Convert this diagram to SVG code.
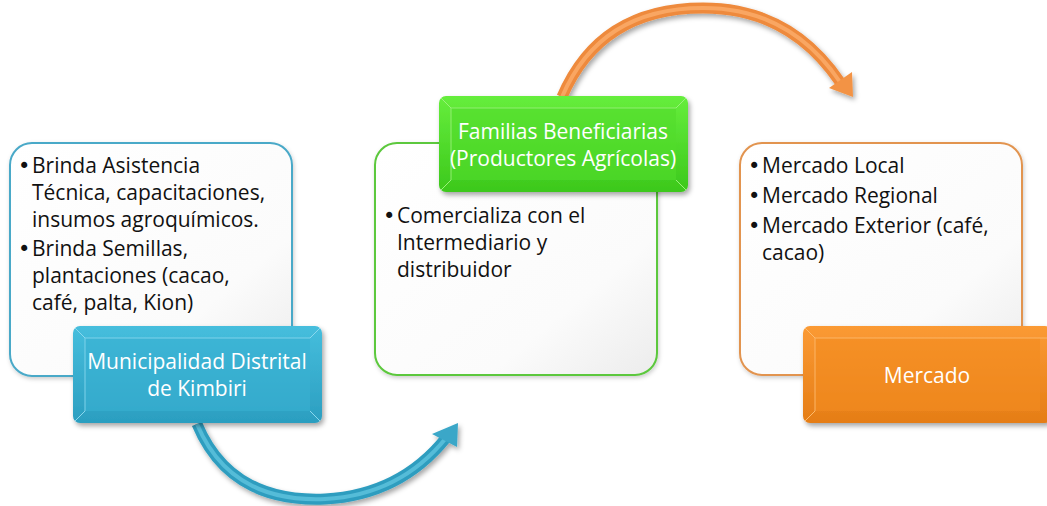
<svg xmlns="http://www.w3.org/2000/svg" width="1047" height="506" viewBox="0 0 1047 506">
<defs>
<filter id="sh" x="-20%" y="-20%" width="140%" height="150%"><feDropShadow dx="2" dy="3" stdDeviation="2.5" flood-color="#000" flood-opacity="0.35"/></filter>
<filter id="shs" x="-10%" y="-10%" width="120%" height="120%"><feDropShadow dx="1" dy="2" stdDeviation="2" flood-color="#000" flood-opacity="0.2"/></filter>
<linearGradient id="wf" x1="0" y1="0" x2="1" y2="1"><stop offset="0" stop-color="#ffffff"/><stop offset="0.7" stop-color="#fbfbfb"/><stop offset="1" stop-color="#ececec"/></linearGradient>
<linearGradient id="gb" x1="0" y1="0" x2="0" y2="1"><stop offset="0" stop-color="#46bedd"/><stop offset="1" stop-color="#2b9ec0"/></linearGradient>
<linearGradient id="gg" x1="0" y1="0" x2="0" y2="1"><stop offset="0" stop-color="#66ee3c"/><stop offset="1" stop-color="#3cc81c"/></linearGradient>
<linearGradient id="go" x1="0" y1="0" x2="0" y2="1"><stop offset="0" stop-color="#fb9a34"/><stop offset="1" stop-color="#e57d16"/></linearGradient>
</defs>
<style>
.body{font-family:"Open Sans",Lato,sans-serif;font-size:21px;fill:#111;}
.bul{font-family:"DejaVu Sans",sans-serif;font-size:21px;}
.lab{font-family:"Open Sans",Lato,sans-serif;font-size:21px;fill:#fff;text-anchor:middle;}
.card{fill:url(#wf);stroke-width:2;filter:url(#shs);}
.bev{fill:none;stroke-width:1;}
</style>

<g id="connectors">
  <g id="arrow-blue" filter="url(#sh)">
    <path d="M197,424 Q230,503 325,499 Q400,495 446,438" fill="none" stroke="#2f9dbf" stroke-width="11"/>
    <path d="M197,424 Q230,503 325,499 Q400,495 446,438" fill="none" stroke="#55bcd8" stroke-width="4"/>
    <polygon points="458,423 432,434 457,447" fill="#3aa7c8"/>
  </g>
  <g id="arrow-orange" filter="url(#sh)">
    <path d="M562,97 Q600,8 703,8 Q790,8 840,82" fill="none" stroke="#ee8a3c" stroke-width="11"/>
    <path d="M562,97 Q600,8 703,8 Q790,8 840,82" fill="none" stroke="#f9a662" stroke-width="4"/>
    <polygon points="853,97 829,88 852,72" fill="#f39344"/>
  </g>
</g>

<g id="node-municipalidad">
  <rect class="card" x="10" y="143" width="282" height="233" rx="22" stroke="#4aa9c8"/>
  <text class="body"><tspan class="bul" x="18" y="173">•</tspan><tspan x="32">Brinda Asistencia</tspan><tspan x="32" y="200">Técnica, capacitaciones,</tspan><tspan x="32" y="227">insumos agroquímicos.</tspan><tspan class="bul" x="18" y="256">•</tspan><tspan x="32">Brinda Semillas,</tspan><tspan x="32" y="283">plantaciones (cacao,</tspan><tspan x="32" y="310">café, palta, Kion)</tspan></text>
  <g filter="url(#sh)">
    <rect x="73" y="326" width="249" height="97" rx="7" fill="url(#gb)"/>
  </g>
  <rect x="85" y="338" width="225" height="73" fill="#38b0d2" opacity="0.6"/>
  <path class="bev" stroke="#8ad8ee" d="M75,328 L85,338 M320,328 L310,338 M75,421 L85,411 M320,421 L310,411"/>
  <path class="bev" stroke="#7fd2ea" d="M85,411 L85,338 L310,338"/>
  <text class="lab"><tspan x="197" y="369">Municipalidad Distrital</tspan><tspan x="197" y="396">de Kimbiri</tspan></text>
</g>

<g id="node-familias">
  <rect class="card" x="375" y="143" width="282" height="232" rx="22" stroke="#5cc83c"/>
  <text class="body"><tspan class="bul" x="383" y="223">•</tspan><tspan x="397">Comercializa con el</tspan><tspan x="397" y="250">Intermediario y</tspan><tspan x="397" y="277">distribuidor</tspan></text>
  <g filter="url(#sh)">
    <rect x="439" y="96" width="249" height="96" rx="7" fill="url(#gg)"/>
  </g>
  <rect x="451" y="108" width="225" height="72" fill="#52dc2c" opacity="0.6"/>
  <path class="bev" stroke="#9af27a" d="M441,98 L451,108 M686,98 L676,108 M441,190 L451,180 M686,190 L676,180"/>
  <path class="bev" stroke="#92ee70" d="M451,180 L451,108 L676,108"/>
  <text class="lab"><tspan x="563" y="139">Familias Beneficiarias</tspan><tspan x="563" y="166">(Productores Agrícolas)</tspan></text>
</g>

<g id="node-mercado">
  <rect class="card" x="740" y="143" width="282" height="232" rx="22" stroke="#e29450"/>
  <text class="body"><tspan class="bul" x="748" y="173">•</tspan><tspan x="762">Mercado Local</tspan><tspan class="bul" x="748" y="203">•</tspan><tspan x="762">Mercado Regional</tspan><tspan class="bul" x="748" y="233">•</tspan><tspan x="762">Mercado Exterior (café,</tspan><tspan x="762" y="260">cacao)</tspan></text>
  <g filter="url(#sh)">
    <rect x="803" y="326" width="249" height="97" rx="7" fill="url(#go)"/>
  </g>
  <rect x="815" y="338" width="225" height="73" fill="#f38c20" opacity="0.6"/>
  <path class="bev" stroke="#fdbb6e" d="M805,328 L815,338 M805,421 L815,411"/>
  <path class="bev" stroke="#fcb566" d="M815,411 L815,338 L1047,338"/>
  <text class="lab"><tspan x="927" y="383">Mercado</tspan></text>
</g>
</svg>
